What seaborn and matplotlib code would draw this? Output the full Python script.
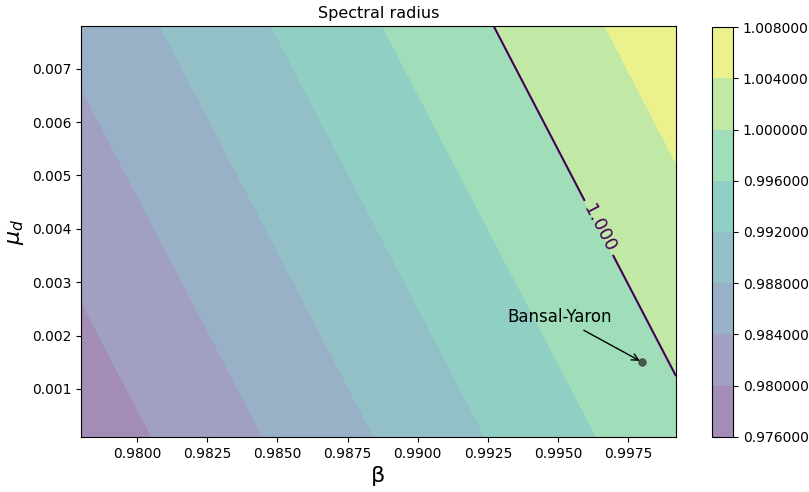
import numpy as np
import seaborn as sns
import matplotlib.pyplot as plt

# corner values of the spectral radius (field is close to planar)
beta_grid = [0.978, 0.9992]
mu_d_grid = [0.0001, 0.0078]
R = [[0.97745, 0.98515],    # beta = 0.978   (mu_d low, high)
     [0.99886, 1.00656]]    # beta = 0.9992
levels = [0.976, 0.980, 0.984, 0.988, 0.992, 0.996, 1.000, 1.004, 1.008]

by_beta = [0.998]
by_mu_d = [0.0015]

R = np.array(R)

# viridis at band midpoints, half opacity pre-blended on white so band edges show no seams
cmap = sns.color_palette("viridis", as_cmap=True)
mids = (np.array(levels[:-1]) + np.array(levels[1:])) / 2
pos = (mids - levels[0]) / (levels[-1] - levels[0])
band_colors = [tuple(0.5 * np.array(cmap(t)[:3]) + 0.5) for t in pos]

fig = plt.figure(figsize=(8.09, 4.92), dpi=100)
ax = fig.add_axes([0.1, 0.112, 0.7356, 0.835])
cax = fig.add_axes([0.880, 0.112, 0.026, 0.833])

cs1 = ax.contourf(beta_grid, mu_d_grid, R.T, levels=levels, colors=band_colors)
ctr1 = ax.contour(beta_grid, mu_d_grid, R.T, levels=[1.0], colors=[cmap(0.0)], linewidths=1.5)
ax.clabel(ctr1, inline=1, fontsize=13, fmt="%.3f", manual=[(0.99646, 0.00402)])
fig.colorbar(cs1, cax=cax, format="%.6f")

sns.scatterplot(x=by_beta, y=by_mu_d, color="k", alpha=0.6, s=45, ax=ax, legend=False)
ax.annotate("Bansal-Yaron", xy=(by_beta[0], by_mu_d[0]), xytext=(0.9932, 0.00225),
            fontsize=12, arrowprops=dict(facecolor="black", arrowstyle="->"))

ax.set_xlim(beta_grid[0], beta_grid[1])
ax.set_ylim(mu_d_grid[0], mu_d_grid[1])
ax.set_title("Spectral radius", fontsize=11.5)
ax.set_xlabel("β", fontsize=16)
ax.set_ylabel(r"$\mu_d$", fontsize=16)

fig.savefig("out.png", dpi=100)
